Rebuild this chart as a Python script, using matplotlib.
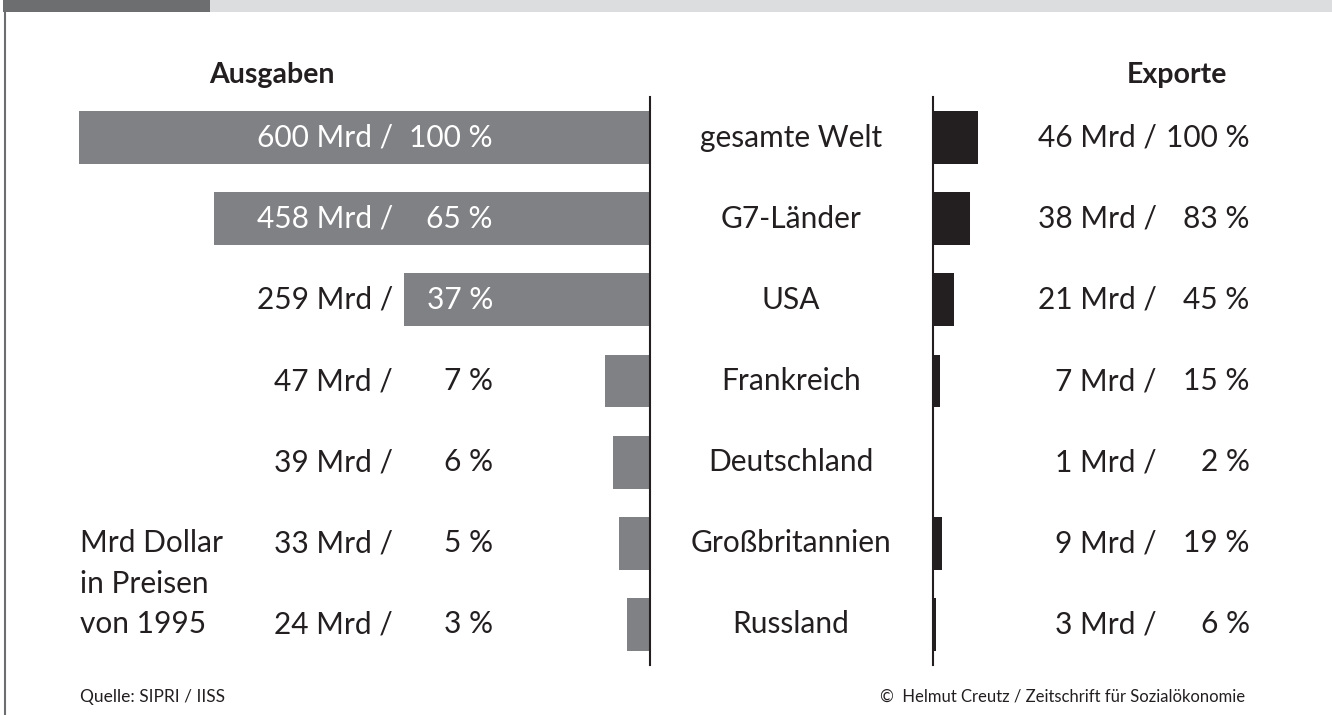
import numpy as np
import matplotlib
matplotlib.use("Agg")
import matplotlib.pyplot as plt
from matplotlib.patches import Rectangle
from matplotlib.lines import Line2D
from matplotlib.transforms import blended_transform_factory

plt.rcParams['font.family'] = ['Lato', 'DejaVu Sans']

# data
laender = ['gesamte Welt', 'G7-Länder', 'USA', 'Frankreich', 'Deutschland', 'Großbritannien', 'Russland']
ausgaben = [600, 458, 259, 47, 39, 33, 24]
ausgaben_pct = [100, 65, 37, 7, 6, 5, 3]
exporte = [46, 38, 21, 7, 1, 9, 3]
exporte_pct = [100, 83, 45, 15, 2, 19, 6]
einheit = ['Mrd Dollar', 'in Preisen', 'von 1995']

W, H = 1332, 715
grau = '#808184'
dunkel = '#231f20'
fs = 21.5

fig = plt.figure(figsize=(W / 100, H / 100), dpi=100)

# header strip
fig.patches.append(Rectangle((3 / W, 1 - 12 / H), 207 / W, 12 / H, transform=fig.transFigure,
                             color='#6d6e70', lw=0))
fig.patches.append(Rectangle((210 / W, 1 - 12 / H), 1 - 210 / W, 12 / H, transform=fig.transFigure,
                             color='#dcdddf', lw=0))
fig.lines.append(Line2D([4.5 / W, 4.5 / W], [0, 1 - 12 / H], transform=fig.transFigure,
                        color='#6d6e70', lw=1.5))

y = np.arange(len(laender))
ax_bottom = 1 - 665 / H
ax_h = 568 / H

# Ausgaben (links)
ax1 = fig.add_axes([79 / W, ax_bottom, 571 / W, ax_h])
ax1.barh(y, ausgaben, height=0.65, color=grau)
ax1.set_xlim(600, 0)
ax1.set_ylim(len(laender) - 0.5, -0.5)
for s in ['top', 'left', 'bottom']:
    ax1.spines[s].set_visible(False)
ax1.spines['right'].set_color(dunkel)
ax1.spines['right'].set_linewidth(1.5)
ax1.set_xticks([])
ax1.set_yticks([])
ax1.patch.set_alpha(0)

for i in range(len(laender)):
    c1 = 'white' if ausgaben[i] >= 400 else dunkel
    c2 = 'white' if ausgaben[i] >= 250 else dunkel
    ax1.text(270, i, f'{ausgaben[i]} Mrd /', ha='right', va='center', fontsize=fs, color=c1)
    ax1.text(165, i, f'{ausgaben_pct[i]} %', ha='right', va='center', fontsize=fs, color=c2)

# Einheit links unten
for k, zeile in enumerate(einheit):
    ax1.text(599, 5 + 0.5 * k, zeile, ha='left', va='center', fontsize=fs, color=dunkel)

# Exporte (rechts)
ax2 = fig.add_axes([933 / W, ax_bottom, 399 / W, ax_h])
ax2.barh(y, exporte, height=0.65, color=dunkel)
ax2.set_xlim(0, 399 / 0.978)
ax2.set_ylim(len(laender) - 0.5, -0.5)
for s in ['top', 'right', 'bottom']:
    ax2.spines[s].set_visible(False)
ax2.spines['left'].set_color(dunkel)
ax2.spines['left'].set_linewidth(1.5)
ax2.set_xticks([])
ax2.set_yticks([])
ax2.patch.set_alpha(0)

for i in range(len(laender)):
    ax2.text(229, i, f'{exporte[i]} Mrd /', ha='right', va='center', fontsize=fs, color=dunkel)
    ax2.text(324, i, f'{exporte_pct[i]} %', ha='right', va='center', fontsize=fs, color=dunkel)

# Laendernamen in der Mitte
trans = blended_transform_factory(fig.transFigure, ax1.transData)
for i, name in enumerate(laender):
    fig.text(791 / W, i, name, transform=trans, ha='center', va='center', fontsize=fs, color=dunkel)

# Ueberschriften
fig.text(272 / W, 1 - 75 / H, 'Ausgaben', ha='center', va='center', fontsize=20.5,
         fontweight='bold', color=dunkel)
fig.text(1177 / W, 1 - 75 / H, 'Exporte', ha='center', va='center', fontsize=20.5,
         fontweight='bold', color=dunkel)

# Fusszeile
fig.text(80 / W, 1 - 697 / H, 'Quelle: SIPRI / IISS', ha='left', va='center', fontsize=12.5, color=dunkel)
fig.text(1245 / W, 1 - 697 / H, '©  Helmut Creutz / Zeitschrift für Sozialökonomie', ha='right',
         va='center', fontsize=12, color=dunkel)

fig.savefig('out.png', dpi=100)
